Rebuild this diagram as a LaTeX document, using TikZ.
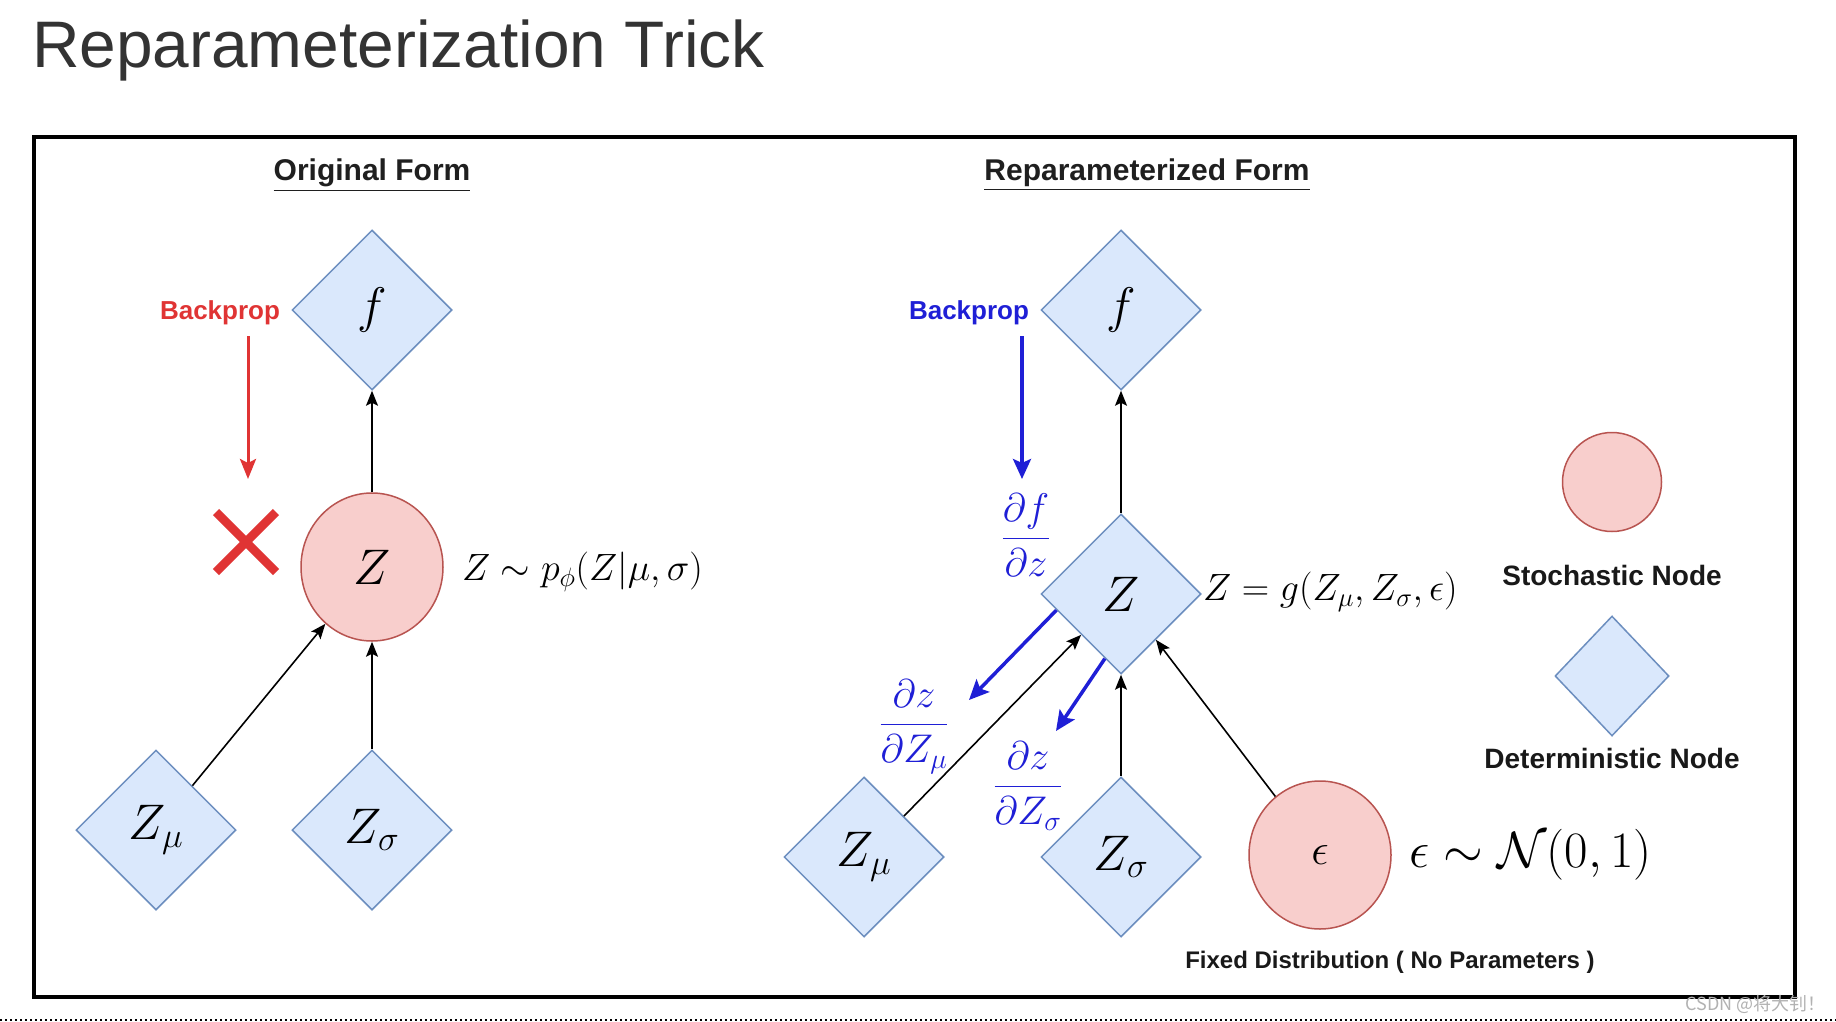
\RequirePackage{fix-cm}
\documentclass[tikz,border=0pt]{standalone}
\usepackage{amsmath}
\usepackage{fontspec}
\setsansfont{Liberation Sans}
\newfontfamily\cjkfont{Noto Sans CJK SC}
\usetikzlibrary{shapes.geometric,arrows.meta,calc}
\definecolor{dfill}{HTML}{DAE8FC}
\definecolor{dline}{HTML}{6C8EBF}
\definecolor{sfill}{HTML}{F8CECC}
\definecolor{sline}{HTML}{B85450}
\definecolor{bpred}{HTML}{E03434}
\definecolor{bpblue}{HTML}{1F1FD6}
\definecolor{titlegray}{HTML}{333333}
\newcommand{\fsz}[1]{\fontsize{#1}{#1}\selectfont}
\begin{document}
\begin{tikzpicture}[x=1pt,y=-1pt,
  dnode/.style={diamond, shape aspect=1, draw=dline, fill=dfill, line width=1.5,
    inner sep=0, minimum width=160, minimum height=160, font=\fsz{50}},
  snode/.style={ellipse, draw=sline, fill=sfill, line width=1.5,
    inner sep=0, minimum width=142, minimum height=148, font=\fsz{50}},
  arr/.style={-{Stealth[length=15pt,width=12pt,inset=3pt]}, line width=1.6, black},
  redarr/.style={-{Stealth[length=20pt,width=16pt,inset=4pt]}, line width=3, bpred},
  bluearr/.style={-{Stealth[length=20pt,width=18pt,inset=4pt]}, line width=3.5, bpblue},
  head/.style={font=\sffamily\bfseries\fsz{30}, text=black!88, inner sep=0},
  bplabel/.style={font=\sffamily\bfseries\fsz{26}, inner sep=0},
  legtext/.style={font=\sffamily\bfseries\fsz{28}, text=black!90, inner sep=0},
  mlabel/.style={font=\fsz{38}, inner sep=0, anchor=west},
  frac/.style={font=\fsz{40}, text=bpblue, inner sep=0}
]
\useasboundingbox (0,0) rectangle (1836,1022);
\fill[white] (0,0) rectangle (1836,1022);

% title
\node[anchor=base west, text=titlegray, font=\sffamily\fsz{65.8}, inner sep=0] (title) at (32,68) {Reparameterization Trick};

% frame
\node[draw, line width=3.2, minimum width=1761, minimum height=860, inner sep=0] (frame) at (914.5,567) {};

% headings
\node[head] (h1) at (372,175) {\underline{Original Form}};
\node[head] (h2) at (1147,175) {\underline{Reparameterized Form}};

% ---- original form
\node[dnode] (f1) at (372,310) {$f$};
\node[snode] (z1) at (372,567) {$Z$};
\node[dnode] (zm1) at (156,830) {$Z_\mu$};
\node[dnode] (zs1) at (372,830) {$Z_\sigma$};
\draw[arr] (z1) -- (f1);
\draw[arr] (zs1) -- (z1);
\draw[arr] (zm1) -- (z1);
\node[mlabel] (l1) at (462,572) {$Z\sim p_\phi(Z|\mu,\sigma)$};

\node[bplabel, text=bpred] (bp1) at (220,313) {Backprop};
\coordinate (r1s) at (248,336);
\coordinate (r1e) at (248,479);
\draw[redarr] (r1s) -- (r1e);
\coordinate (x1) at (246,542);
\draw[bpred, line width=8.5] ($(x1)+(-30,-30)$) -- ($(x1)+(30,30)$);
\draw[bpred, line width=8.5] ($(x1)+(-30,30)$) -- ($(x1)+(30,-30)$);

% ---- reparameterized form
\node[dnode] (f2) at (1121,310) {$f$};
\node[dnode] (z2) at (1121,594) {$Z$};
\node[dnode] (zm2) at (864,857) {$Z_\mu$};
\node[dnode] (zs2) at (1121,857) {$Z_\sigma$};
\node[snode, font=\fsz{44}] (eps) at (1320,855) {$\epsilon$};
\draw[arr] (z2) -- (f2);
\draw[arr] (zs2) -- (z2);
\draw[arr] (zm2) -- (z2);
\draw[arr] (eps) -- (z2);
\node[mlabel] (l2) at (1203,592) {$Z=g(Z_\mu,Z_\sigma,\epsilon)$};
\node[mlabel, font=\fsz{51}] (l3) at (1409,855) {$\epsilon\sim\mathcal{N}(0,1)$};
\node[font=\sffamily\bfseries\fsz{24}, text=black!90, inner sep=0] (fd) at (1390,962) {Fixed Distribution ( No Parameters )};

\node[bplabel, text=bpblue] (bp2) at (969,313) {Backprop};
\coordinate (b1s) at (1022,336);
\coordinate (b1e) at (1022,479);
\draw[bluearr] (b1s) -- (b1e);
\node[frac] (d1) at (1026,535) {$\dfrac{\partial f}{\partial z}$};
\coordinate (b2e) at (969,700);
\coordinate (b3e) at (1056,731);
\draw[bluearr] ($(z2.west)!0.2!(z2.south)$) -- (b2e);
\draw[bluearr] ($(z2.west)!0.8!(z2.south)$) -- (b3e);
\node[frac] (d2) at (914,727) {$\dfrac{\partial z}{\partial Z_\mu}$};
\node[frac] (d3) at (1028,786) {$\dfrac{\partial z}{\partial Z_\sigma}$};

% ---- legend
\node[snode, minimum width=99, minimum height=99] (ls) at (1612,482) {};
\node[legtext] (lst) at (1612,575) {Stochastic Node};
\node[dnode, minimum width=114, minimum height=120] (ld) at (1612,676) {};
\node[legtext] (ldt) at (1612,758) {Deterministic Node};

% page bits
\node[anchor=east, text=black!30, font=\cjkfont\fsz{18}, inner sep=0] (wm) at (1826,1004) {CSDN @将大钊！};
\draw[line width=2, dash pattern=on 2pt off 3pt] (0,1020) -- (1836,1020);
\end{tikzpicture}
\end{document}
